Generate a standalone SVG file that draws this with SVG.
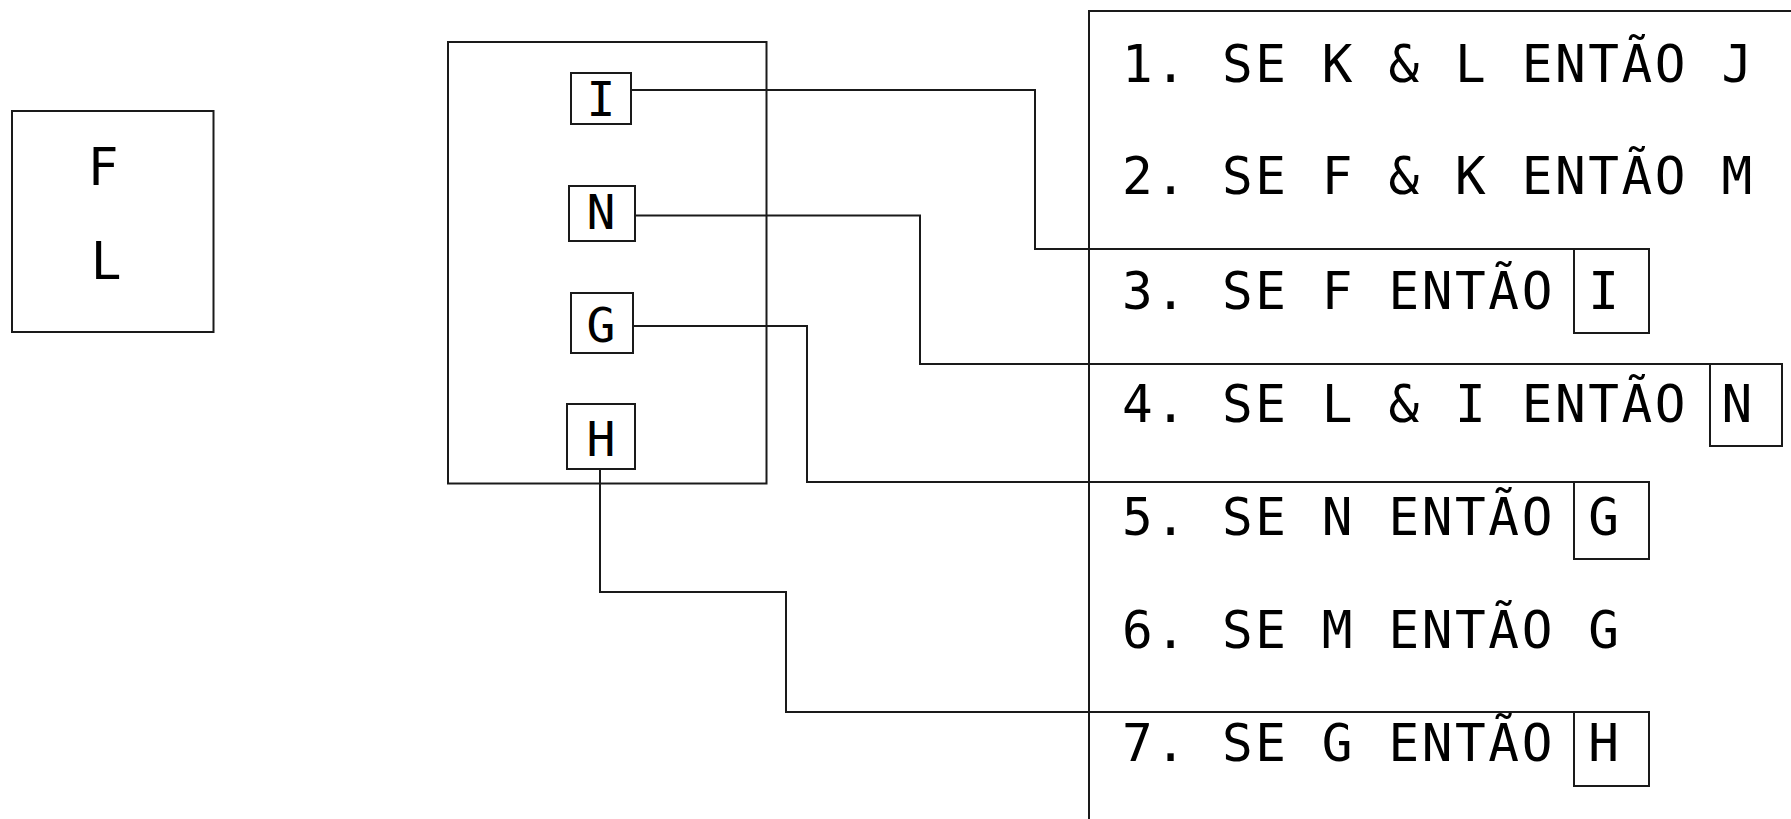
<svg xmlns="http://www.w3.org/2000/svg" width="1791" height="819" viewBox="0 0 1791 819">
<style>
.box{fill:none;stroke:#1a1a1a;stroke-width:2}
.wire{fill:none;stroke:#1a1a1a;stroke-width:2}
.rule{font-family:"DejaVu Sans Mono","Liberation Mono",monospace;font-size:51px;letter-spacing:2.6px;fill:#000;white-space:pre}
.lbl{font-family:"DejaVu Sans Mono","Liberation Mono",monospace;font-size:48px;fill:#000;text-anchor:middle}
.big{font-size:51px}
</style>
<rect width="1791" height="819" fill="#fff"/>
<g id="facts">
<rect class="box" x="12" y="111" width="201.5" height="221"/>
<text class="lbl big" x="103" y="185">F</text>
<text class="lbl big" x="106" y="279">L</text>
</g>
<g id="memory">
<rect class="box" x="448" y="42" width="318.5" height="441.5"/>
</g>
<g id="node-I"><rect class="box" x="571" y="73" width="60" height="51"/><text class="lbl" x="601" y="116">I</text></g>
<g id="node-N"><rect class="box" x="569" y="186" width="66" height="55"/><text class="lbl" x="601" y="229">N</text></g>
<g id="node-G"><rect class="box" x="571" y="293" width="62" height="60"/><text class="lbl" x="601" y="342">G</text></g>
<g id="node-H"><rect class="box" x="567" y="404" width="68" height="65"/><text class="lbl" x="601" y="456">H</text></g>
<g id="rules">
<path class="box" d="M1089,819 V11 H1791"/>
<text class="rule" x="1122" y="82">1. SE K &amp; L ENTÃO J</text>
<text class="rule" x="1122" y="194">2. SE F &amp; K ENTÃO M</text>
<text class="rule" x="1122" y="309">3. SE F ENTÃO I</text>
<text class="rule" x="1122" y="422">4. SE L &amp; I ENTÃO N</text>
<text class="rule" x="1122" y="535">5. SE N ENTÃO G</text>
<text class="rule" x="1122" y="648">6. SE M ENTÃO G</text>
<text class="rule" x="1122" y="761">7. SE G ENTÃO H</text>
<rect class="box" x="1574" y="249" width="75" height="84"/>
<rect class="box" x="1710" y="364" width="72" height="82"/>
<rect class="box" x="1574" y="482" width="75" height="77"/>
<rect class="box" x="1574" y="712" width="75" height="74"/>
</g>
<g id="connectors">
<path class="wire" d="M631,90 H1035 V249 H1649"/>
<path class="wire" d="M635,215.5 H920 V364 H1782"/>
<path class="wire" d="M633,326 H807 V482 H1649"/>
<path class="wire" d="M600,469 V592 H786 V712 H1649"/>
</g>
</svg>
